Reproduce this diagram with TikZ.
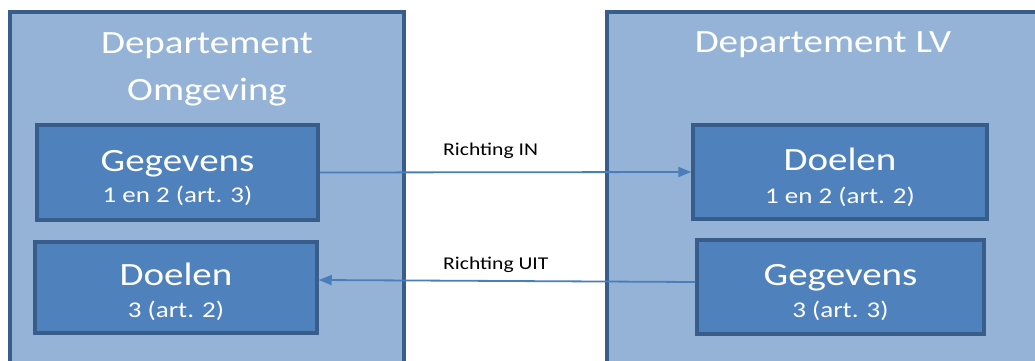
\documentclass[tikz,border=0pt]{standalone}
\usepackage{fontspec}
\setmainfont{Carlito}[FakeStretch=1.2]
\usetikzlibrary{arrows.meta}
\definecolor{outerfill}{HTML}{95B3D7}
\definecolor{boxborder}{HTML}{385D8A}
\definecolor{innerfill}{HTML}{4F81BD}
\definecolor{arrowcol}{HTML}{4A7EBB}
\begin{document}
\begin{tikzpicture}[x=1pt,y=1pt,
  dept/.style={draw=boxborder,line width=4pt,fill=outerfill},
  inner/.style={draw=boxborder,line width=3.5pt,fill=innerfill,inner sep=0pt},
  bigtext/.style={text=white,anchor=base,inner sep=0pt,font=\fontsize{32.5}{39}\selectfont},
  subtext/.style={text=white,anchor=base,inner sep=0pt,font=\fontsize{22.5}{27}\selectfont},
  lbl/.style={text=black,anchor=base west,inner sep=0pt,font=\fontsize{18}{22}\selectfont},
  flow/.style={draw=arrowcol,line width=1.8pt,-{Triangle[length=13pt,width=10pt]}}]
\useasboundingbox (0,0) rectangle (1035,360);
\clip (0,0) rectangle (1035,360);
% outer department boxes
\path[dept] (10,348) rectangle (404,-20);
\path[dept] (607,348) rectangle (1045,-20);
\node[bigtext] (tl1) at (207,307) {Departement};
\node[bigtext] (tl2) at (207,260) {Omgeving};
\node[bigtext] (tr) at (823,308) {Departement LV};
% inner boxes
\node[inner,minimum width=281pt,minimum height=95pt] (gl) at (177.5,187.5) {};
\node[inner,minimum width=282pt,minimum height=91pt] (dl) at (176,72.5) {};
\node[inner,minimum width=294pt,minimum height=94pt] (dr) at (840,188) {};
\node[inner,minimum width=287pt,minimum height=94pt] (gr) at (840.5,73) {};
\node[bigtext] (glt) at (177.5,189) {Gegevens};
\node[subtext] (gls) at (177.5,158) {1 en 2 (art. 3)};
\node[bigtext] (dlt) at (176,75) {Doelen};
\node[subtext] (dls) at (176,43) {3 (art. 2)};
\node[bigtext] (drt) at (840,190) {Doelen};
\node[subtext] (drs) at (840,157) {1 en 2 (art. 2)};
\node[bigtext] (grt) at (840.5,75) {Gegevens};
\node[subtext] (grs) at (840.5,43) {3 (art. 3)};
% arrows
\draw[flow] (gl.east) -- (dr.west);
\draw[flow] ([yshift=5pt]gr.west) -- ([yshift=7.5pt]dl.east);
\node[lbl] (lin) at (443,205) {Richting IN};
\node[lbl] (lout) at (443,91) {Richting UIT};
\end{tikzpicture}
\end{document}
